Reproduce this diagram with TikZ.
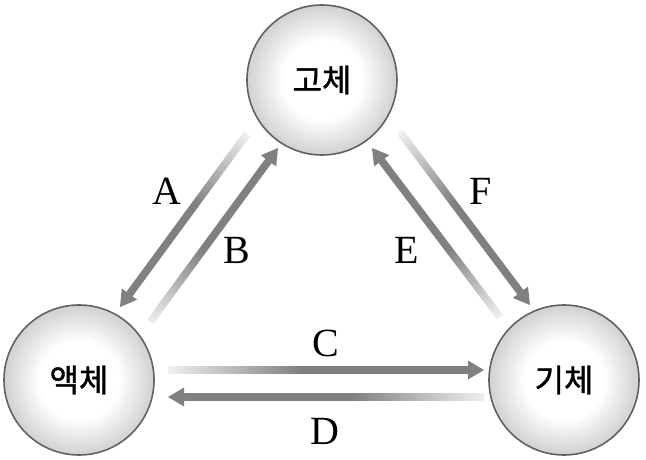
\documentclass[tikz,border=0pt]{standalone}
\usepackage{fontspec}
\setmainfont{Liberation Serif}
\newfontfamily\kr{Noto Sans CJK KR}[UprightFeatures={FakeBold=1.2}]
\usetikzlibrary{calc}
\pgfdeclarehorizontalshading{arrowshade}{100bp}{color(0bp)=(gray!12); color(25bp)=(gray!12); color(47bp)=(gray); color(100bp)=(gray)}
\pgfdeclareradialshading{phaseball}{\pgfpoint{0bp}{0bp}}{color(0bp)=(white); color(13bp)=(white); color(25bp)=(gray!36); color(50bp)=(gray!36)}
\tikzset{
  phase/.style={circle, draw=black!62, line width=1.6pt, shading=phaseball,
    minimum size=150pt, inner sep=0pt, font=\kr\fontsize{32}{32}\selectfont},
  lbl/.style={font=\fontsize{40}{40}\selectfont, inner sep=0pt},
}
\newcommand\gradarrow[2]{%
  \path let \p1=(#1), \p2=(#2), \n1={atan2(\y2-\y1,\x2-\x1)}, \n2={veclen(\x2-\x1,\y2-\y1)} in
    \pgfextra{\xdef\garang{\n1}\xdef\garlen{\n2}};
  \begin{scope}[transform canvas={shift={(#1)}, rotate=\garang}]
    \shade[shading=arrowshade] (0,-3.8) rectangle (\garlen-14,3.8);
    \fill[gray] (\garlen,0) -- (\garlen-16,-9.5) -- (\garlen-16,9.5) -- cycle;
  \end{scope}}
\begin{document}
\begin{tikzpicture}[x=1pt,y=-1pt]
\useasboundingbox (0,0) rectangle (646,460);
\node[phase] (s) at (322,80) {고체};
\node[phase] (l) at (79,380) {액체};
\node[phase] (g) at (564,380) {기체};
% arrow end points
\coordinate (a0) at (247,134); \coordinate (a1) at (120,307);
\coordinate (b0) at (150,322); \coordinate (b1) at (278,148);
\coordinate (c0) at (168,370); \coordinate (c1) at (484,370);
\coordinate (d0) at (484,397); \coordinate (d1) at (168,397);
\coordinate (e0) at (500,317); \coordinate (e1) at (372,148);
\coordinate (f0) at (400,132); \coordinate (f1) at (530,305);
\gradarrow{a0}{a1}
\gradarrow{b0}{b1}
\gradarrow{c0}{c1}
\gradarrow{d0}{d1}
\gradarrow{e0}{e1}
\gradarrow{f0}{f1}
\node[lbl] (la) at (167,191) {A};
\node[lbl] (lb) at (237,250) {B};
\node[lbl] (lc) at (326,343) {C};
\node[lbl] (ld) at (325,431) {D};
\node[lbl] (le) at (407,250) {E};
\node[lbl] (lf) at (481,191) {F};
\end{tikzpicture}
\end{document}
